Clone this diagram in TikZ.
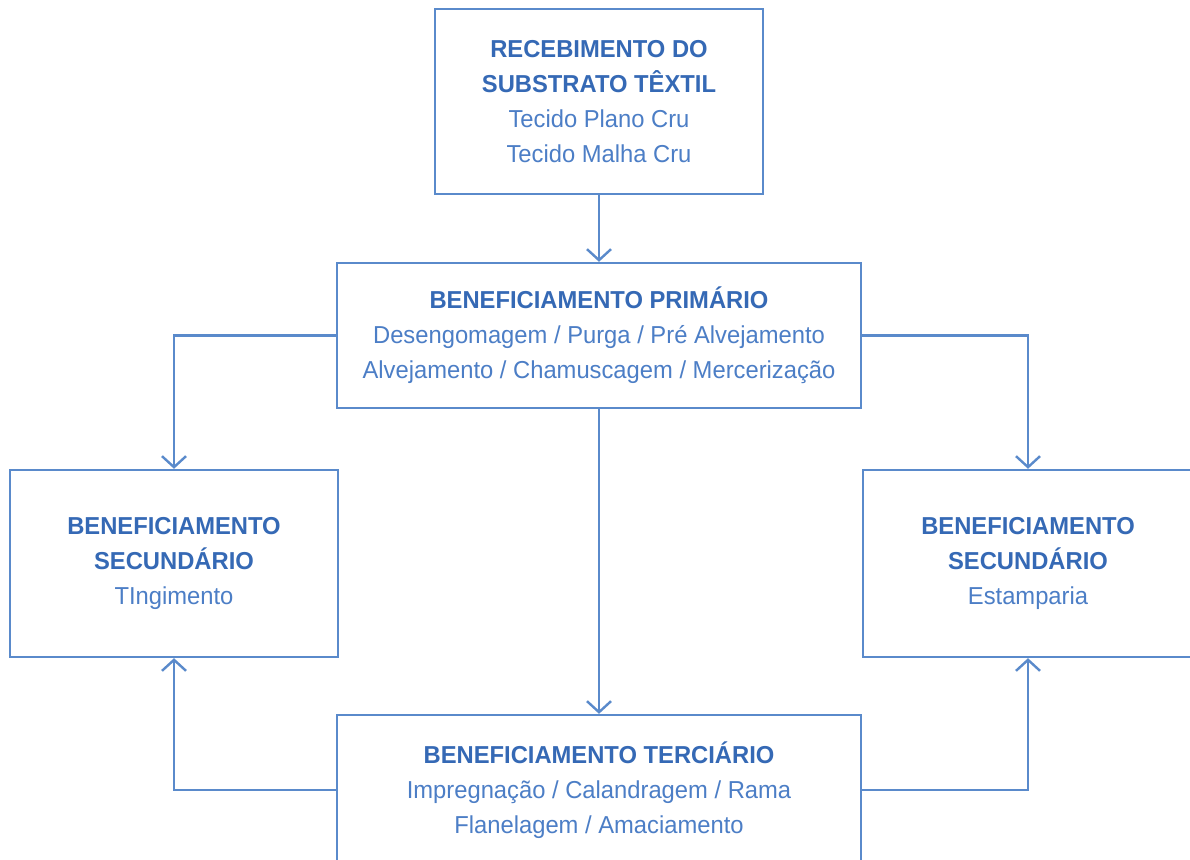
\documentclass[tikz,border=0pt]{standalone}
\usepackage{fontspec}
\setmainfont[FakeStretch=0.97]{Liberation Sans}
\usetikzlibrary{arrows.meta}
\definecolor{lineblue}{HTML}{5A8ACB}
\definecolor{headblue}{HTML}{3569B5}
\definecolor{textblue}{HTML}{4C7EC6}
\tikzset{
  box/.style={draw=lineblue, line width=2.4pt, fill=white, rectangle, inner sep=0pt, align=center,
    text=textblue, font=\fontsize{24.5}{35}\selectfont},
  conn/.style={draw=lineblue, line width=2.4pt, -{Straight Barb[length=11pt,width=24pt,line width=2.4pt]}}
}
\newcommand{\hdr}[1]{{\bfseries\color{headblue}#1}}
\begin{document}
\begin{tikzpicture}[x=1pt,y=-1pt]
\clip (0,0) rectangle (1190,859);
\useasboundingbox (0,0) rectangle (1190,859);
\fill[white] (0,0) rectangle (1190,859);
\node[box, minimum width=328pt, minimum height=185pt] (T) at (599,101.5)
  {\hdr{RECEBIMENTO DO}\\ \hdr{SUBSTRATO TÊXTIL}\\ Tecido Plano Cru\\ Tecido Malha Cru};
\node[box, minimum width=524pt, minimum height=145pt] (P) at (599,335.5)
  {\hdr{BENEFICIAMENTO PRIMÁRIO}\\ Desengomagem / Purga / Pré Alvejamento\\ Alvejamento / Chamuscagem / Mercerização};
\node[box, minimum width=328pt, minimum height=187pt] (L) at (174,563.5)
  {\hdr{BENEFICIAMENTO}\\ \hdr{SECUNDÁRIO}\\ TIngimento};
\node[box, minimum width=330pt, minimum height=187pt] (R) at (1028,563.5)
  {\hdr{BENEFICIAMENTO}\\ \hdr{SECUNDÁRIO}\\ Estamparia};
\node[box, minimum width=524pt, minimum height=150pt] (B) at (599,790)
  {\hdr{BENEFICIAMENTO TERCIÁRIO}\\ Impregnação / Calandragem / Rama\\ Flanelagem / Amaciamento};
\draw[conn] (T.south) -- (P.north);
\draw[conn] (P.west) -| (L.north);
\draw[conn] (P.east) -| (R.north);
\draw[conn] (P.south) -- (B.north);
\draw[conn] (B.west) -| (L.south);
\draw[conn] (B.east) -| (R.south);
\end{tikzpicture}
\end{document}
